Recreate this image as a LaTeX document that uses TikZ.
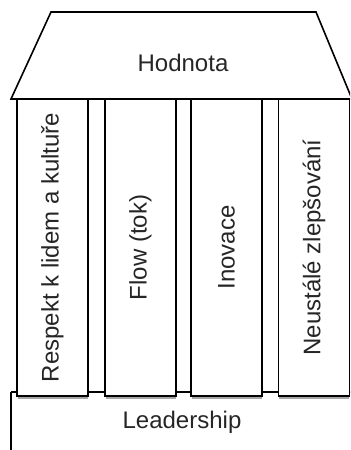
\documentclass[tikz,border=0pt]{standalone}
\usepackage{fontspec}
\setmainfont{Liberation Sans}
\begin{document}
\begin{tikzpicture}[x=0.5pt,y=-0.5pt,line width=0.8pt,
    pillar/.style={draw,fill=white,rotate=90,minimum width=148.5pt,minimum height=35.5pt,inner sep=0pt,text=black!85},
    label/.style={text=black!85,font=\fontsize{12}{14}\selectfont}]
    \useasboundingbox (0,0) rectangle (350,450);
    \clip (0,0) rectangle (350,450);
    %% Base
    \draw (11,392) -- (11,460) (11,392) -- (360,392);
    \node[label] (leader) at (182,422) {Leadership};
    %% Roof
    \draw[fill=white] (51,12) -- (316,12) -- (352,99) -- (11,99) -- cycle;
    \node[label] (value) at (183,63) {Hodnota};
    %% Pillars
    \foreach \x/\name/\txt in {52.5/respect/Respekt k lidem a kultuře,
                               140.5/flow/Flow (tok),
                               226.5/innov/Inovace,
                               314/kaizen/Neustálé zlepšování}{
        \draw[black!35,line width=1.2pt] (\x-35,397.5) -- (\x+35,397.5);
        \node[pillar,label] (\name) at (\x,247.5) {\txt};
    }
\end{tikzpicture}
\end{document}
